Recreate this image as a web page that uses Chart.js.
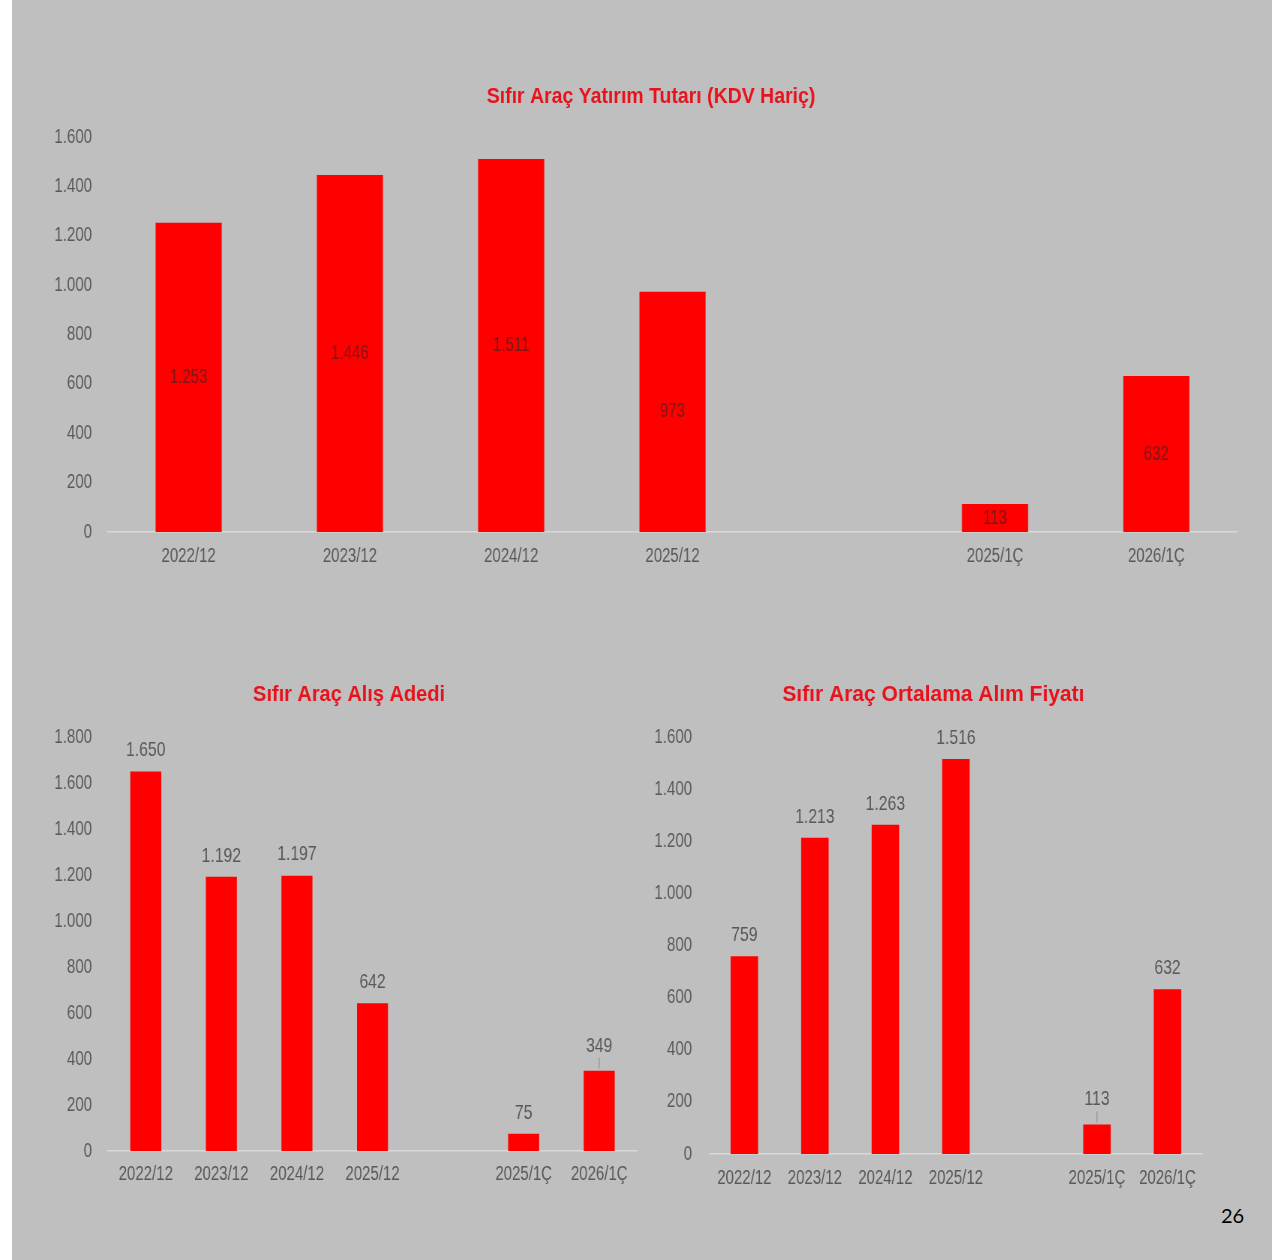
<!DOCTYPE html>
<html lang="tr">
<head>
<meta charset="utf-8">
<title>Sıfır Araç</title>
<script src="https://cdn.jsdelivr.net/npm/chart.js@4.4.1/dist/chart.umd.min.js"></script>
<style>
  html, body { margin: 0; padding: 0; }
  body { width: 1272px; height: 1260px; background: #bfbfbf; position: relative; overflow: hidden; }
  .strip { position: absolute; left: 0; top: 0; width: 12px; height: 1260px; background: #fff; }
  .box { position: absolute; transform-origin: 0 0; }
  .page { position: absolute; left: 1221px; top: 1203px; font: 20px Lato, "Open Sans", sans-serif; color: #000; }
</style>
</head>
<body>
<div class="strip"></div>
<div class="box" id="tutarBox"><canvas id="tutarChart"></canvas></div>
<div class="box" id="adetBox"><canvas id="adetChart"></canvas></div>
<div class="box" id="fiyatBox"><canvas id="fiyatChart"></canvas></div>
<div class="page">26</div>

<script>
// ---- Données ----
const periods = ["2022/12", "2023/12", "2024/12", "2025/12", "", "2025/1Ç", "2026/1Ç"];
const yatirimTutari = [1253, 1446, 1511, 973, null, 113, 632];
const alisAdedi     = [1650, 1192, 1197, 642, null, 75, 349];
const ortalamaFiyat = [759, 1213, 1263, 1516, null, 113, 632];

const FONT = "'Liberation Sans', Arial, sans-serif";
const RED = "#ff0000";
const GREY = "#595959";
// la diapo d'origine est compressée horizontalement
const SX = 0.75;

// 1600 -> "1.600"
function fmt(v) {
    return String(Math.round(v)).replace(/\B(?=(\d{3})+(?!\d))/g, ".");
}

// ---- Titre dessiné à une position fixe ----
const fixedTitle = {
    id: "fixedTitle",
    afterDraw(chart, args, opts) {
        const ctx = chart.ctx;
        ctx.save();
        ctx.translate(opts.x / SX, opts.y);
        ctx.scale(opts.stretch, 1);
        ctx.font = "bold 22px " + FONT;
        ctx.fillStyle = "#e8121c";
        ctx.textAlign = "center";
        ctx.textBaseline = "middle";
        ctx.fillText(opts.text, 0, 0);
        ctx.restore();
    }
};

// ---- Étiquettes de valeurs ----
const valueLabels = {
    id: "valueLabels",
    afterDatasetsDraw(chart, args, opts) {
        const ctx = chart.ctx;
        const data = chart.data.datasets[0].data;
        ctx.save();
        ctx.font = opts.size + "px " + FONT;
        ctx.fillStyle = opts.color;
        ctx.strokeStyle = "#8c8c8c";
        ctx.lineWidth = 1;
        ctx.textAlign = "center";
        ctx.textBaseline = "middle";
        chart.getDatasetMeta(0).data.forEach((bar, i) => {
            if (data[i] == null) return;
            if (opts.inside) {
                ctx.fillText(fmt(data[i]), bar.x, (bar.y + bar.base) / 2);
                return;
            }
            const leader = (opts.leaders || []).includes(i);
            const off = leader ? opts.offset + 4 : opts.offset;
            ctx.fillText(fmt(data[i]), bar.x, bar.y - off);
            if (leader) {
                ctx.beginPath();
                ctx.moveTo(bar.x, bar.y - off + 12);
                ctx.lineTo(bar.x, bar.y - 2);
                ctx.stroke();
            }
        });
        ctx.restore();
    }
};

function makeChart(id, values, cfg) {
    const box = document.getElementById(id.replace("Chart", "Box"));
    box.style.left = cfg.left + "px";
    box.style.top = cfg.top + "px";
    box.style.width = (cfg.width / SX) + "px";
    box.style.height = cfg.height + "px";
    box.style.transform = "scaleX(" + SX + ")";

    return new Chart(document.getElementById(id), {
        type: "bar",
        data: {
            labels: periods,
            datasets: [{
                data: values,
                backgroundColor: RED,
                borderWidth: 0,
                categoryPercentage: 1,
                barPercentage: cfg.barPct
            }]
        },
        options: {
            responsive: true,
            maintainAspectRatio: false,
            animation: false,
            layout: { padding: { top: 77, right: cfg.padRight / SX, left: 0, bottom: 0 } },
            plugins: {
                legend: { display: false },
                tooltip: { enabled: false },
                title: { display: false },
                fixedTitle: { text: cfg.title, x: cfg.titleX, y: cfg.titleY, stretch: cfg.titleStretch },
                valueLabels: cfg.labels
            },
            scales: {
                x: {
                    grid: { display: false, drawTicks: false },
                    border: { display: true, color: "#d9d9d9", width: 1.5 },
                    ticks: { color: GREY, font: { family: FONT, size: cfg.tickSize }, padding: cfg.xPad, maxRotation: 0, autoSkip: false },
                    afterFit(scale) { scale.height = cfg.xHeight; }
                },
                y: {
                    min: 0,
                    max: cfg.max,
                    grid: { display: false, drawTicks: false },
                    border: { display: false },
                    ticks: { stepSize: 200, color: GREY, font: { family: FONT, size: cfg.tickSize }, padding: cfg.yPad / SX, callback: v => fmt(v) },
                    afterFit(scale) { scale.width = cfg.yWidth / SX; }
                }
            }
        },
        plugins: [fixedTitle, valueLabels]
    });
}

// ---- Graphiques ----
makeChart("tutarChart", yatirimTutari, {
    left: 12, top: 60, width: 1240, height: 540,
    title: "Sıfır Araç Yatırım Tutarı (KDV Hariç)", titleX: 639, titleY: 37, titleStretch: 1.18,
    max: 1600, barPct: 0.41, padRight: 15, yWidth: 96, xHeight: 68,
    xPad: 12, yPad: 16, tickSize: 20,
    labels: { inside: true, color: "#7a1818", size: 20 }
});

makeChart("adetChart", alisAdedi, {
    left: 12, top: 660, width: 636, height: 560,
    title: "Sıfır Araç Alış Adedi", titleX: 337, titleY: 35, titleStretch: 1.21,
    max: 1800, barPct: 0.41, padRight: 11, yWidth: 96, xHeight: 69,
    xPad: 11, yPad: 16, tickSize: 20,
    labels: { inside: false, color: GREY, size: 21, offset: 21, leaders: [6] }
});

makeChart("fiyatChart", ortalamaFiyat, {
    left: 648, top: 660, width: 572, height: 560,
    title: "Sıfır Araç Ortalama Alım Fiyatı", titleX: 285, titleY: 35, titleStretch: 1.27,
    max: 1600, barPct: 0.39, padRight: 18, yWidth: 61, xHeight: 66,
    xPad: 12, yPad: 17, tickSize: 20,
    labels: { inside: false, color: GREY, size: 21, offset: 21, leaders: [5] }
});
</script>
</body>
</html>
